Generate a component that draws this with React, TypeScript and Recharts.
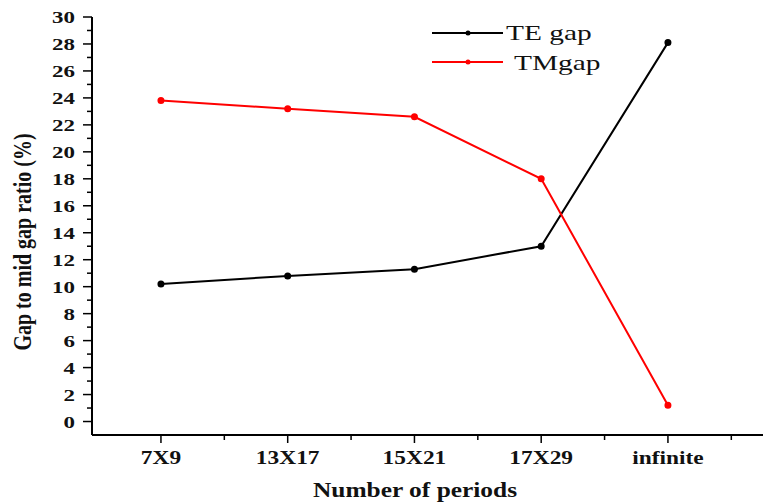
import React from 'react';
import { LineChart, Line, XAxis, YAxis } from 'recharts';

const categories = ['7X9', '13X17', '15X21', '17X29', 'infinite'];
const teGap = [10.2, 10.8, 11.3, 13.0, 28.1];
const tmGap = [23.8, 23.2, 22.6, 18.0, 1.2];
const yTicks = Array.from({ length: 31 }, (_, i) => i);
const xTicks = [1, 1.5, 2, 2.5, 3, 3.5, 4, 4.5, 5, 5.5];

const data = categories.map((name, i) => ({
  name,
  pos: i + 1,
  te: teGap[i],
  tm: tmGap[i],
}));

const FONT = 'Liberation Serif';

const YTick = (props: any) => {
  const { x, y, payload } = props;
  const v = payload.value;
  const major = v % 2 === 0;
  return (
    <g>
      <line x1={x - (major ? 9 : 5)} y1={y} x2={x} y2={y} stroke="#000" strokeWidth={1.5} />
      {major && (
        <text
          transform={`translate(${x - 17},${y + 6}) scale(1.35,1)`}
          textAnchor="end"
          fontFamily={FONT}
          fontWeight="bold"
          fontSize={17}
          fill="#111"
        >
          {v}
        </text>
      )}
    </g>
  );
};

const XTick = (props: any) => {
  const { x, y, payload } = props;
  const v = payload.value;
  const major = Number.isInteger(v);
  return (
    <g>
      <line x1={x} y1={y} x2={x} y2={y + (major ? 8 : 5)} stroke="#000" strokeWidth={1.5} />
      {major && (
        <text
          transform={`translate(${x},${y + 29}) scale(1.3,1)`}
          textAnchor="middle"
          fontFamily={FONT}
          fontWeight="bold"
          fontSize={18}
          fill="#111"
        >
          {categories[v - 1]}
        </text>
      )}
    </g>
  );
};

const App: React.FC = () => {
  return (
    <div style={{ position: 'absolute', left: 0, top: 0, width: 763, height: 502, background: '#fff' }}>
      <LineChart width={763} height={502} data={data} margin={{ top: 17, right: 0, bottom: 0, left: 0 }}>
        <XAxis
          dataKey="pos"
          type="number"
          domain={[0.456, 5.75]}
          ticks={xTicks}
          tick={<XTick />}
          tickLine={false}
          tickSize={0}
          tickMargin={0}
          interval={0}
          axisLine={{ stroke: '#000', strokeWidth: 2 }}
          height={67}
        />
        <YAxis
          type="number"
          domain={[-1, 30]}
          ticks={yTicks}
          tick={<YTick />}
          tickLine={false}
          tickSize={0}
          tickMargin={0}
          interval={0}
          axisLine={{ stroke: '#000', strokeWidth: 2 }}
          width={92}
        />
        <Line
          dataKey="te"
          stroke="#000"
          strokeWidth={2}
          dot={{ r: 2.5, fill: '#000', stroke: '#000' }}
          isAnimationActive={false}
        />
        <Line
          dataKey="tm"
          stroke="#ff0000"
          strokeWidth={2}
          dot={{ r: 2.5, fill: '#ff0000', stroke: '#ff0000' }}
          isAnimationActive={false}
        />
        {/* legend */}
        <g>
          <line x1={432} y1={33} x2={503} y2={33} stroke="#000" strokeWidth={2} />
          <circle cx={468} cy={33} r={2.5} fill="#000" />
          <text transform="translate(506,40) scale(1.4,1)" fontFamily={FONT} fontSize={21} fill="#111">
            TE gap
          </text>
          <line x1={432} y1={62} x2={503} y2={62} stroke="#ff0000" strokeWidth={2} />
          <circle cx={468} cy={62} r={2.5} fill="#ff0000" />
          <text transform="translate(514,70) scale(1.4,1)" fontFamily={FONT} fontSize={21} fill="#111">
            TMgap
          </text>
        </g>
        <text
          transform="translate(415,497) scale(1.27,1)"
          textAnchor="middle"
          fontFamily={FONT}
          fontWeight="bold"
          fontSize={20}
          fill="#111"
        >
          Number of periods
        </text>
        <text
          transform="translate(31,242) scale(1.3,1) rotate(-90)"
          textAnchor="middle"
          fontFamily={FONT}
          fontWeight="bold"
          fontSize={20}
          fill="#111"
        >
          Gap to mid gap ratio (%)
        </text>
      </LineChart>
    </div>
  );
};

export default App;
